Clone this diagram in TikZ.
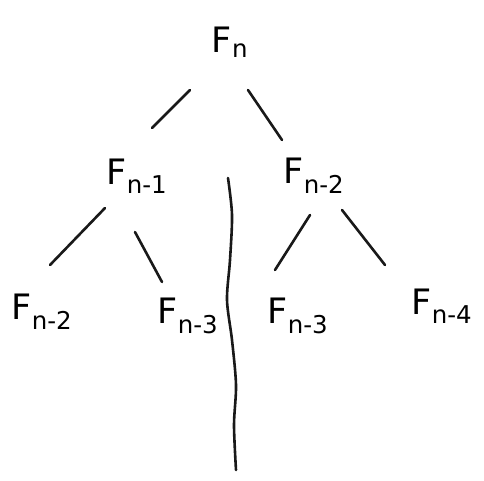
\documentclass[tikz,border=0pt]{standalone}
\usepackage{fontspec}
\setmainfont{DejaVu Sans}
\begin{document}
\begin{tikzpicture}[x=1pt,y=-1pt,
  lbl/.style={font=\fontsize{35}{35}\selectfont, inner sep=0pt},
  edge/.style={line width=2.6pt, line cap=round, black!90}]
\useasboundingbox (0,0) rectangle (484,481);
\node[lbl] (n) at (230,42) {F\textsubscript{n}};
\node[lbl] (n1) at (137,176) {F\textsubscript{n-1}};
\node[lbl] (n2) at (314,176) {F\textsubscript{n-2}};
\node[lbl] (a) at (42,312) {F\textsubscript{n-2}};
\node[lbl] (b) at (188,316) {F\textsubscript{n-3}};
\node[lbl] (c) at (298,316) {F\textsubscript{n-3}};
\node[lbl] (d) at (442,306) {F\textsubscript{n-4}};
\coordinate (n1s) at (190,90); \coordinate (n1e) at (152,128);
\coordinate (n2s) at (248,90); \coordinate (n2e) at (282,140);
\coordinate (as) at (105,208); \coordinate (ae) at (50,265);
\coordinate (bs) at (135,232); \coordinate (be) at (162,282);
\coordinate (cs) at (310,215); \coordinate (ce) at (275,270);
\coordinate (ds) at (342,210); \coordinate (de) at (385,265);
\draw[edge] (n1s) -- (n1e);
\draw[edge] (n2s) -- (n2e);
\draw[edge] (as) -- (ae);
\draw[edge] (bs) -- (be);
\draw[edge] (cs) -- (ce);
\draw[edge] (ds) -- (de);
\draw[edge] plot[smooth] coordinates {(228,178) (232,215) (230,260) (227,300) (232,340) (236,385) (234,425) (236,470)};
\end{tikzpicture}
\end{document}
